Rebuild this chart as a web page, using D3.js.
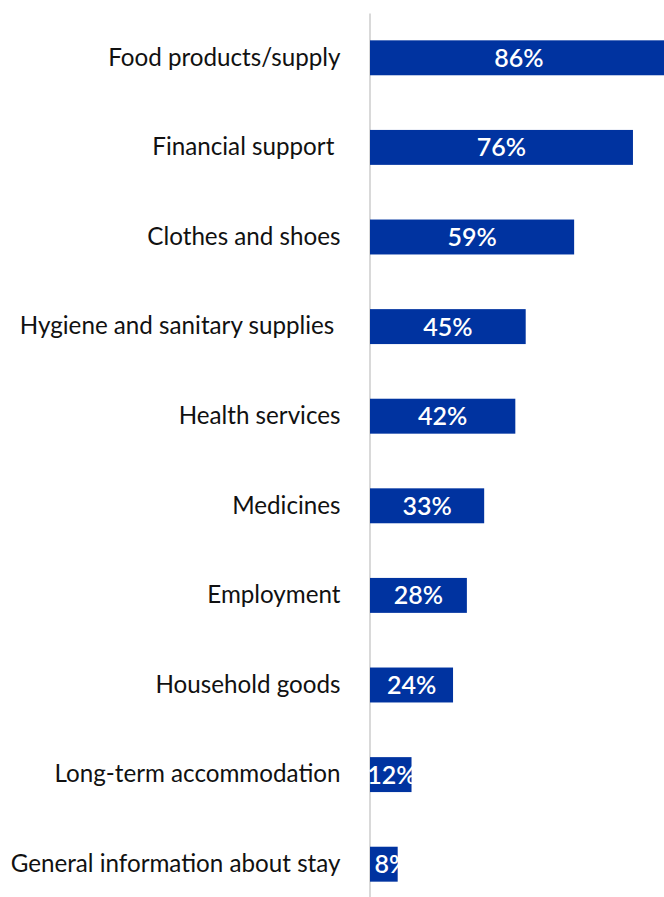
<!DOCTYPE html>
<html>
<head>
<meta charset="utf-8">
<script src="https://cdn.jsdelivr.net/npm/d3@7"></script>
<style>
  body { margin: 0; background: #fff; }
  svg { display: block; }
  .y-axis text { font-family: Lato, "Open Sans", sans-serif; font-size: 24.2px; font-weight: 400; fill: #111; white-space: pre; }
  .value { font-family: Lato, "Open Sans", sans-serif; font-size: 25px; font-weight: 600; fill: #fff; }
</style>
</head>
<body>
<svg id="chart"></svg>
<script>
// categories, top to bottom
const categories = [
  "Food products/supply",
  "Financial support ",
  "Clothes and shoes",
  "Hygiene and sanitary supplies ",
  "Health services",
  "Medicines",
  "Employment",
  "Household goods",
  "Long-term accommodation",
  "General information about stay"
];
const values = [86, 76, 59, 45, 42, 33, 28, 24, 12, 8];

const width = 664,
      height = 897,
      x0 = 370;

const data = categories.map((c, i) => ({ cat: c, val: values[i] }));

var svg = d3.select("svg#chart")
    .attr("width", width)
    .attr("height", height);

var xScale = d3.scaleLinear()
    .domain([0, 100])
    .range([x0, x0 + 346]);

var yScale = d3.scaleBand()
    .domain(categories)
    .range([13, 909])
    .paddingInner(0.61)
    .paddingOuter(0.305);

var yAxis = svg.append("g")
    .attr("class", "y-axis")
    .attr("transform", "translate(" + (x0 - 0.5) + ",0)")
    .call(d3.axisLeft(yScale).tickSize(0).tickPadding(29));

yAxis.select(".domain")
    .attr("stroke", "#d9d9d9")
    .attr("stroke-width", 2);

svg.selectAll("rect.bar")
    .data(data)
    .enter()
  .append("rect")
    .attr("class", "bar")
    .attr("x", xScale(0))
    .attr("y", d => yScale(d.cat))
    .attr("width", d => xScale(d.val) - xScale(0))
    .attr("height", yScale.bandwidth())
    .attr("fill", "#0033a0");

svg.selectAll("text.value")
    .data(data)
    .enter()
  .append("text")
    .attr("class", "value")
    .attr("x", d => Math.max((xScale(d.val) + xScale(0)) / 2, xScale(0) + 22))
    .attr("y", d => yScale(d.cat) + yScale.bandwidth() / 2)
    .attr("dy", "0.36em")
    .attr("text-anchor", "middle")
    .text(d => d.val + "%");
</script>
</body>
</html>
